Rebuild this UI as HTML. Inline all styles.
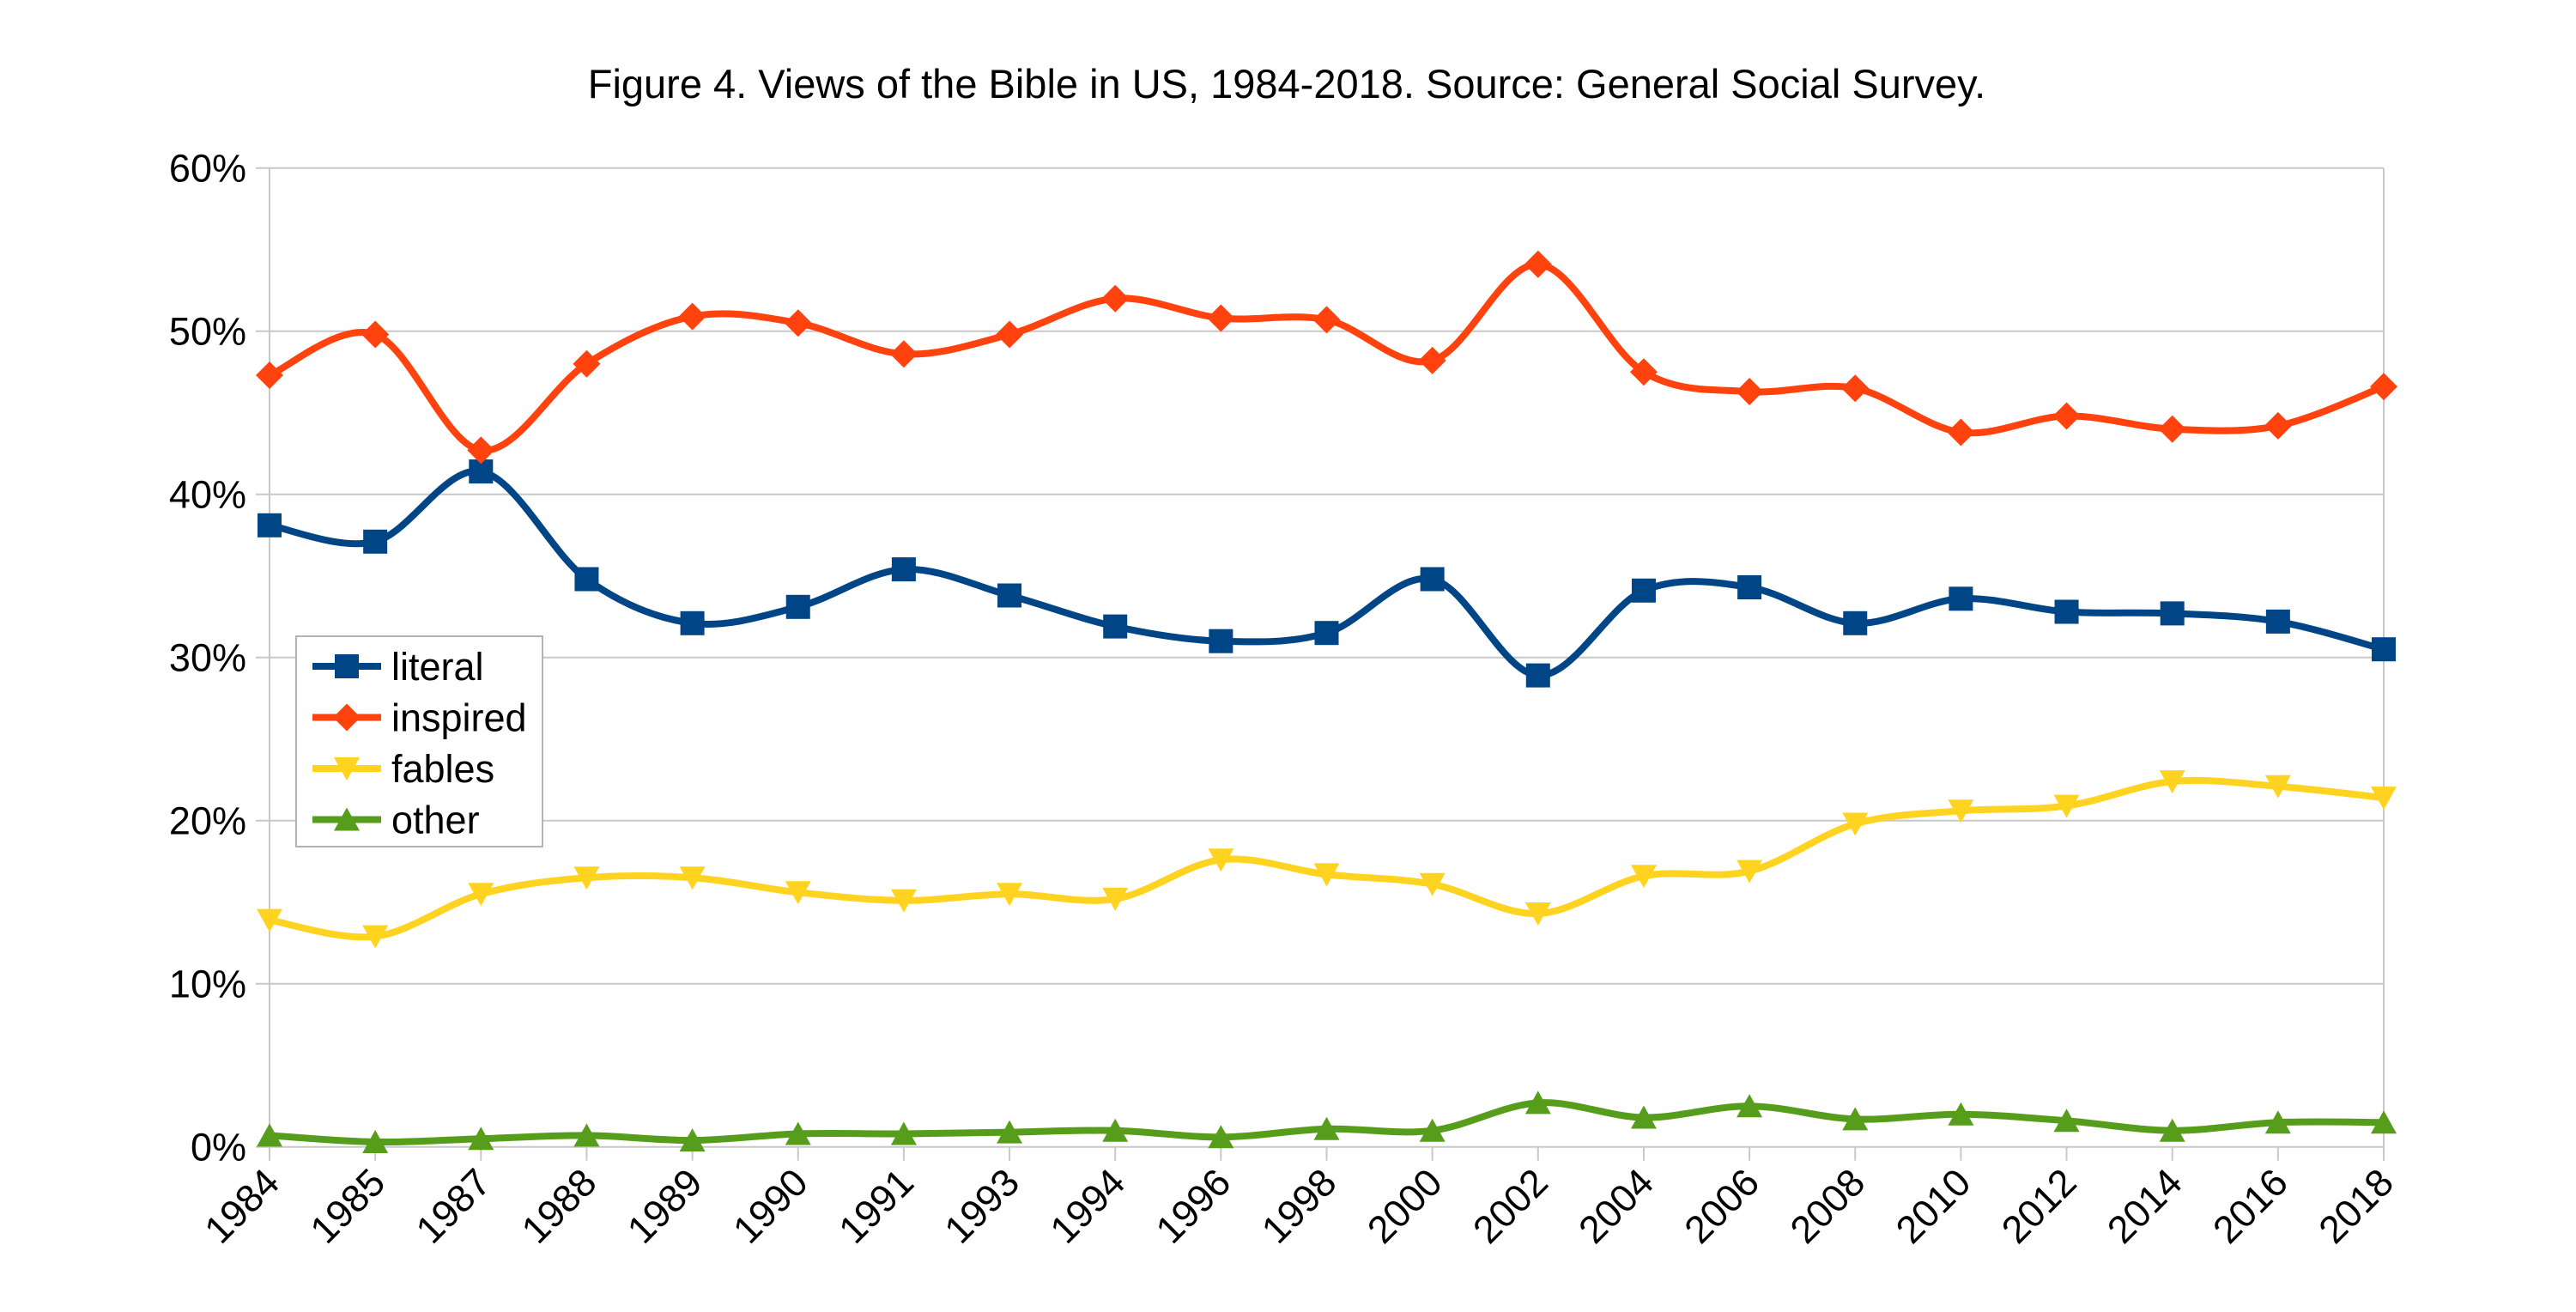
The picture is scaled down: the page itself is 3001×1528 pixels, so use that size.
<!DOCTYPE html>
<html><head><meta charset="utf-8"><style>html,body{margin:0;padding:0;background:#fff}svg{display:block}</style></head>
<body>
<svg id="chart" width="3001" height="1528" xmlns="http://www.w3.org/2000/svg" font-family="Liberation Sans, sans-serif">
<rect width="3001" height="1528" fill="#fff"/>
<text x="1499" y="114" font-size="47" text-anchor="middle" fill="#000">Figure 4. Views of the Bible in US, 1984-2018. Source: General Social Survey.</text>
<g id="grid"></g><g id="axes"></g><g id="series"></g><g id="legend"></g>
</svg>
<script>
const categories=['1984','1985','1987','1988','1989','1990','1991','1993','1994','1996','1998','2000','2002','2004','2006','2008','2010','2012','2014','2016','2018'];
const literal=[38.1,37.1,41.4,34.8,32.1,33.1,35.4,33.8,31.9,31.0,31.5,34.8,28.9,34.1,34.3,32.1,33.6,32.8,32.7,32.2,30.5];
const inspired=[47.3,49.8,42.7,48.0,50.9,50.5,48.6,49.8,52.0,50.8,50.7,48.2,54.1,47.5,46.3,46.5,43.8,44.8,44.0,44.2,46.6];
const fables=[13.9,12.9,15.5,16.5,16.5,15.6,15.1,15.5,15.2,17.6,16.7,16.1,14.3,16.6,16.9,19.8,20.6,20.9,22.4,22.1,21.4];
const other=[0.7,0.3,0.5,0.7,0.4,0.8,0.8,0.9,1.0,0.6,1.1,1.0,2.7,1.8,2.5,1.7,2.0,1.6,1.0,1.5,1.5];
const yTicks=[0,10,20,30,40,50,60];
const seriesNames=['literal','inspired','fables','other'];

const NS='http://www.w3.org/2000/svg';
const X0=314,X1=2777,Y0=1335.7,Y1=195.7;
const xs=i=>X0+i*(X1-X0)/(categories.length-1);
const ys=v=>Y0-(v/60)*(Y0-Y1);
function mk(tag,attrs,parent){const e=document.createElementNS(NS,tag);for(const k in attrs)e.setAttribute(k,attrs[k]);parent.appendChild(e);return e;}
const grid=document.getElementById('grid'),axes=document.getElementById('axes'),ser=document.getElementById('series'),leg=document.getElementById('legend');

yTicks.forEach(t=>{
  const y=ys(t);
  const l=mk('line',{x1:X0-16,x2:X1,y1:y,y2:y,stroke:'#c8c8c8','stroke-width':2},grid);
  
  
  const tx=mk('text',{x:287,y:y+16,'font-size':45,'text-anchor':'end',fill:'#000'},axes);
  tx.textContent=t+'%';
  
  
});
const ax=mk('line',{x1:X0,x2:X0,y1:Y1,y2:Y0,stroke:'#c8c8c8','stroke-width':2},grid);


const ax2=mk('line',{x1:X1,x2:X1,y1:Y1,y2:Y0+16,stroke:'#c8c8c8','stroke-width':2},grid);


categories.forEach((c,i)=>{
  const x=xs(i);
  const tk=mk('line',{x1:x,x2:x,y1:Y0,y2:Y0+16,stroke:'#c8c8c8','stroke-width':2},grid);
  
  
  const tx=mk('text',{x:x+14,y:1380,'font-size':45,'text-anchor':'end',fill:'#000',transform:`rotate(-45 ${x+14} 1380)`},axes);
  tx.textContent=c;
  
  
});

function path(vals){
  const p=vals.map((v,i)=>[xs(i),ys(v)]);
  let d=`M${p[0][0]},${p[0][1]}`;
  for(let i=0;i<p.length-1;i++){
    const a=p[i-1]||p[i],b=p[i],c=p[i+1],e=p[i+2]||c;
    const c1=[b[0]+(c[0]-a[0])/6,b[1]+(c[1]-a[1])/6],c2=[c[0]-(e[0]-b[0])/6,c[1]-(e[1]-b[1])/6];
    d+=` C${c1[0]},${c1[1]} ${c2[0]},${c2[1]} ${c[0]},${c[1]}`;
  }
  return d;
}
function marker(type,x,y,col,parent){
  if(type==='square')return mk('rect',{x:x-14,y:y-14,width:28,height:28,fill:col},parent);
  if(type==='diamond')return mk('polygon',{points:`${x},${y-16} ${x+16},${y} ${x},${y+16} ${x-16},${y}`,fill:col},parent);
  if(type==='down')return mk('polygon',{points:`${x-15},${y-13} ${x+15},${y-13} ${x},${y+14}`,fill:col},parent);
  return mk('polygon',{points:`${x-15},${y+13} ${x+15},${y+13} ${x},${y-14}`,fill:col},parent);
}
const lbg=mk('rect',{x:345,y:741,width:287,height:245,fill:'#fff',stroke:'#b3b3b3','stroke-width':2},leg);


const defs=[[literal,'#004586','square'],[inspired,'#ff420e','diamond'],[fables,'#ffd320','down'],[other,'#579d1c','up']];
defs.forEach(([vals,col,m],k)=>{
  const g=mk('g',{},ser);
  
  
  const pl=mk('path',{d:path(vals),fill:'none',stroke:col,'stroke-width':8,'stroke-linejoin':'round'},g);
  
  
  vals.forEach((v,i)=>{
    const mm=marker(m,xs(i),ys(v),col,g);
    
    
  });
  const ly=776+k*59.5;
  const ll=mk('line',{x1:364,x2:444,y1:ly,y2:ly,stroke:col,'stroke-width':8},leg);
  
  
  const lm=marker(m,404,ly,col,leg);
  
  
  const lt=mk('text',{x:456,y:ly+16,'font-size':45,fill:'#000'},leg);
  lt.textContent=seriesNames[k];
  
  
});
</script>
</body></html>
